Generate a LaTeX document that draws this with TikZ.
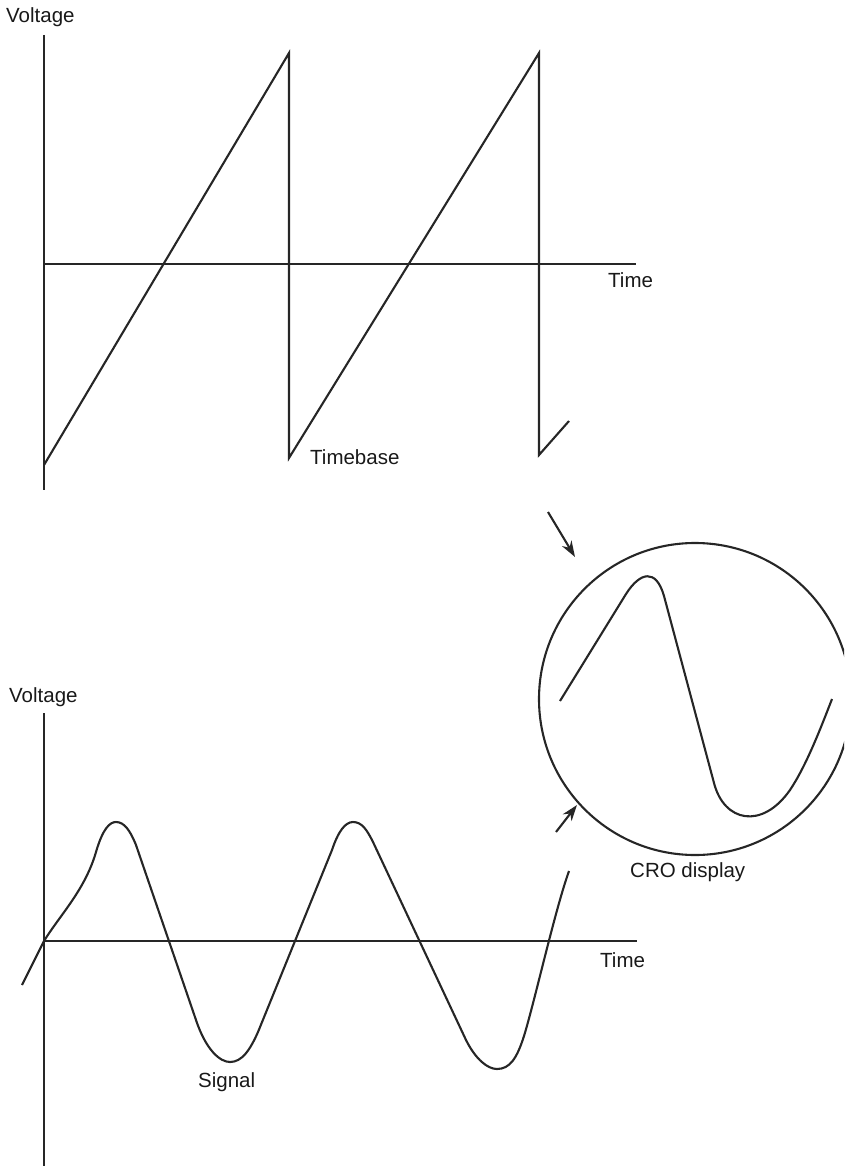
\documentclass[tikz,border=0pt]{standalone}
\usepackage{fontspec}
\setmainfont{Liberation Sans}
\usetikzlibrary{arrows.meta}
\begin{document}
\begin{tikzpicture}[x=1pt,y=-1pt,
  lbl/.style={font=\fontsize{20.5}{24}\selectfont, inner sep=0pt, anchor=base west, text=black!90},
  axisline/.style={line width=2.1pt, draw=black!85},
  wave/.style={line width=2.1pt, draw=black!85, line join=round},
  pointer/.style={line width=2.1pt, draw=black!85, -{Stealth[length=16pt,width=11pt]}}]
\useasboundingbox (0,0) rectangle (844,1166);
\clip (0,0) rectangle (844,1166);

% ---------- top graph : timebase ----------
\node[lbl] (v1) at (6,23) {Voltage};
\coordinate (y1top) at (44,35);
\coordinate (y1bot) at (44,490);
\coordinate (x1l) at (44,264);
\coordinate (x1r) at (636,264);
\draw[axisline] (y1top) -- (y1bot);
\draw[axisline] (x1l) -- (x1r);
\node[lbl] (t1) at (608,287) {Time};
\draw[wave, line join=miter] (44,465) -- (289,53) -- (289,458) -- (539,53) -- (539,455) -- (569,421);
\node[lbl] (tb) at (310,464) {Timebase};

% ---------- CRO display ----------
\node[draw=black!85, line width=2.1pt, circle, minimum size=312pt, inner sep=0pt] (cro) at (695,699) {};
\draw[wave] (560,701) -- (626,594)
  .. controls (640,572) and (656,568) .. (664,596)
  -- (714,783)
  .. controls (724,822) and (762,830) .. (790,790)
  .. controls (806,766) and (820,730) .. (832,699);
\node[lbl] (crol) at (630,877) {CRO display};
\coordinate (a1s) at (548,512);
\coordinate (a1e) at (575,557);
\coordinate (a2s) at (556,832);
\coordinate (a2e) at (577,805);
\draw[pointer] (a1s) -- (a1e);
\draw[pointer] (a2s) -- (a2e);

% ---------- bottom graph : signal ----------
\node[lbl] (v2) at (9,702) {Voltage};
\coordinate (y2top) at (44,713);
\coordinate (y2bot) at (44,1166);
\coordinate (x2l) at (44,941);
\coordinate (x2r) at (637,941);
\draw[axisline] (y2top) -- (y2bot);
\draw[axisline] (x2l) -- (x2r);
\node[lbl] (t2) at (600,967) {Time};
\draw[wave] (22,985) -- (44,941)
  .. controls (60,915) and (85,890) .. (96,852)
  .. controls (103,828) and (110,822) .. (116,822)
  .. controls (124,822) and (130,830) .. (136,845)
  -- (196,1020)
  .. controls (206,1050) and (220,1062) .. (230,1062)
  .. controls (242,1062) and (250,1050) .. (258,1032)
  -- (332,850)
  .. controls (338,832) and (345,822) .. (353,822)
  .. controls (362,822) and (367,830) .. (373,842)
  -- (466,1040)
  .. controls (476,1060) and (488,1069) .. (497,1069)
  .. controls (510,1069) and (517,1058) .. (524,1036)
  .. controls (535,1000) and (555,910) .. (569,871);
\node[lbl] (sig) at (198,1087) {Signal};
\end{tikzpicture}
\end{document}
